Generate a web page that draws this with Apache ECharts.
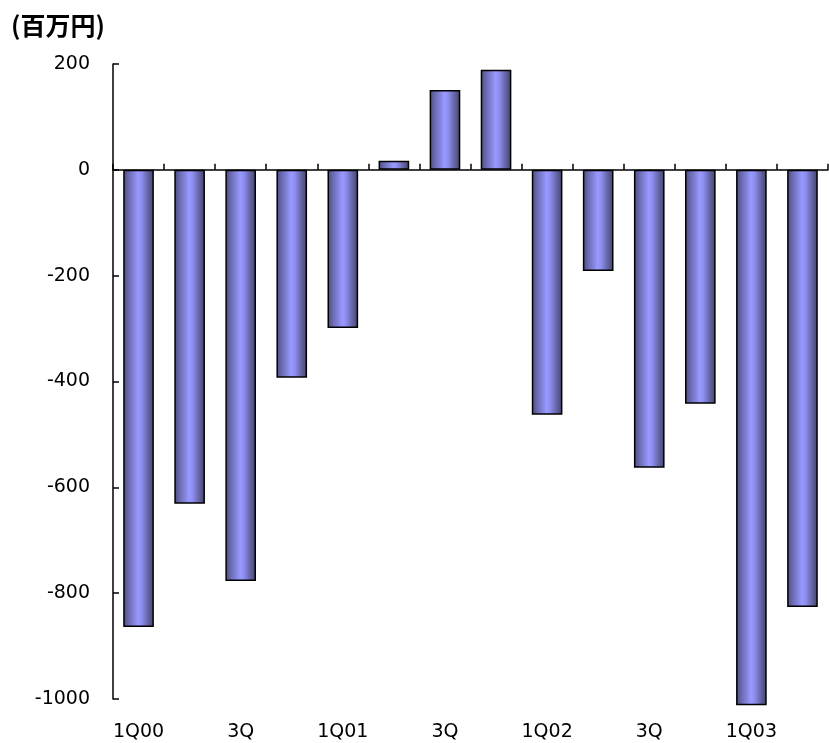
<!DOCTYPE html>
<html>
<head>
<meta charset="utf-8">
<script src="https://cdn.jsdelivr.net/npm/echarts@6/dist/echarts.min.js"></script>
<style>
  html, body { margin: 0; padding: 0; background: #fff; }
  #chart { width: 829px; height: 743px; }
</style>
</head>
<body>
<div id="chart"></div>
<script>
// Quarterly figures, millions of yen
const quarters = ['1Q00', '2Q', '3Q', '4Q', '1Q01', '2Q', '3Q', '4Q', '1Q02', '2Q', '3Q', '4Q', '1Q03', '2Q'];
const values = [-864, -631, -777, -393, -299, 17, 151, 189, -463, -191, -563, -442, -1012, -826];
const yTicks = { min: -1000, max: 200, step: 200 };
const unitLabel = '(百万円)';

const font = '"DejaVu Sans", "Liberation Sans", Arial, sans-serif';

// cylinder-like horizontal shading across each bar
const barFill = new echarts.graphic.LinearGradient(0, 0, 1, 0, [
  { offset: 0.0, color: '#4a4a80' },
  { offset: 0.18, color: '#6b6bb2' },
  { offset: 0.32, color: '#7f7fd6' },
  { offset: 0.48, color: '#9999ff' },
  { offset: 0.6, color: '#8e8ef0' },
  { offset: 0.78, color: '#6a6aae' },
  { offset: 1.0, color: '#43436a' }
]);

const chart = echarts.init(document.getElementById('chart'), null, { renderer: 'canvas' });
chart.setOption({
  animation: false,
  backgroundColor: '#ffffff',
  title: {
    text: unitLabel,
    left: 6,
    top: 8,
    textStyle: {
      fontFamily: '"Noto Sans CJK JP", "Liberation Sans", sans-serif',
      fontSize: 25,
      fontWeight: 'bold',
      color: '#000'
    }
  },
  grid: { left: 113, right: 1, top: 64, bottom: 44, containLabel: false },
  xAxis: [
    {
      type: 'category',
      data: quarters,
      boundaryGap: true,
      axisLine: { onZero: true, lineStyle: { color: '#000', width: 1.5 } },
      axisTick: { show: true, inside: true, length: 6, lineStyle: { color: '#000', width: 1.5 } },
      axisLabel: { show: false },
      splitLine: { show: false }
    },
    {
      type: 'category',
      data: quarters,
      position: 'bottom',
      boundaryGap: true,
      axisLine: { show: false, onZero: false },
      axisTick: { show: false },
      axisLabel: {
        interval: 1,
        margin: 24,
        fontFamily: font,
        fontSize: 19,
        color: '#000'
      },
      splitLine: { show: false }
    }
  ],
  yAxis: {
    type: 'value',
    min: yTicks.min,
    max: yTicks.max,
    interval: yTicks.step,
    axisLine: { show: true, lineStyle: { color: '#000', width: 1.5 } },
    axisTick: { show: true, inside: true, length: 6, lineStyle: { color: '#000', width: 1.5 } },
    axisLabel: {
      margin: 23,
      fontFamily: font,
      fontSize: 19,
      color: '#000',
      formatter: (v) => String(v)
    },
    splitLine: { show: false }
  },
  series: [
    {
      type: 'bar',
      xAxisIndex: 0,
      data: values,
      barWidth: '60%',
      clip: false,
      itemStyle: { color: barFill, borderColor: '#000', borderWidth: 1.5 }
    }
  ]
});
</script>
</body>
</html>
